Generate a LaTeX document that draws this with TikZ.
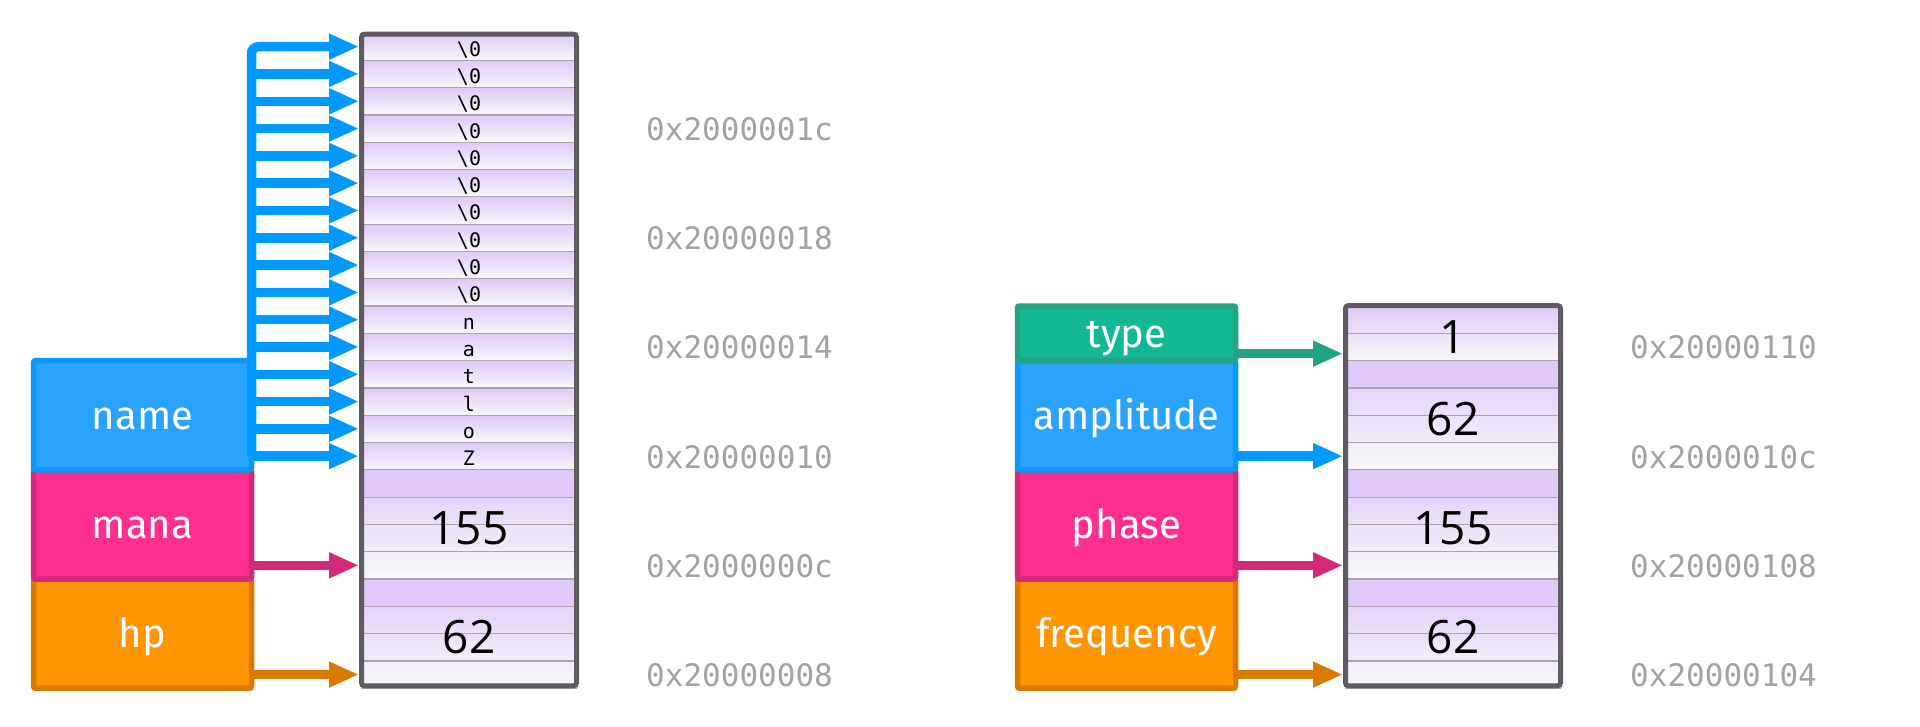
\documentclass[tikz,border=0pt]{standalone}
\usepackage{fontspec}
\usetikzlibrary{arrows.meta}
\newfontfamily\lblfont{Fira Sans}
\newfontfamily\numfont{Open Sans}
\newfontfamily\cellfont{DejaVu Sans Mono}
\definecolor{nameFill}{HTML}{2AA3FF}
\definecolor{nameLine}{HTML}{0A99FA}
\definecolor{blueArrow}{HTML}{0099FF}
\definecolor{manaFill}{HTML}{FF2F8F}
\definecolor{manaLine}{HTML}{D42A7A}
\definecolor{hpFill}{HTML}{FF9500}
\definecolor{hpLine}{HTML}{D97A00}
\definecolor{typeFill}{HTML}{13B894}
\definecolor{typeLine}{HTML}{22A383}
\definecolor{lav}{HTML}{E0C8FA}
\definecolor{cellwhite}{HTML}{F8F8F8}
\definecolor{divider}{HTML}{AAA4AF}
\definecolor{memborder}{HTML}{5F5B63}
\definecolor{addrgray}{HTML}{A2A2A2}
\colorlet{lavB}{lav!75!cellwhite}
\colorlet{lavC}{lav!25!cellwhite}
\pgfdeclareverticalshading{wordshade}{100bp}{color(0bp)=(cellwhite); color(25bp)=(cellwhite); color(37.5bp)=(lavC); color(62.4bp)=(lavB); color(62.5bp)=(lav); color(100bp)=(lav)}
\newcommand\nulchar{\textbackslash0}
\tikzset{
  field/.style={rounded corners=2pt, line width=5.5pt, minimum width=218pt, inner sep=0pt, outer sep=0pt, text=white, font=\lblfont\fontsize{40pt}{48pt}\selectfont, text height=28pt, text depth=0pt},
  ccell/.style={minimum width=215pt, minimum height=27.3pt, inner sep=0pt, outer sep=0pt, top color=lav, bottom color=cellwhite, draw=divider, line width=1.2pt, font=\cellfont\fontsize{20pt}{24pt}\selectfont, text height=19pt, text depth=0pt},
  ecell/.style={minimum width=215pt, minimum height=27.3pt, inner sep=0pt, outer sep=0pt, draw=divider, line width=1.2pt},
  word/.style={minimum width=215pt, inner sep=0pt, outer sep=0pt, shading=wordshade},
  wordtwo/.style={minimum width=215pt, inner sep=0pt, outer sep=0pt, top color=lav, bottom color=cellwhite},
  numtxt/.style={font=\numfont\fontsize{46pt}{50pt}\selectfont, text height=40pt, text depth=0pt, inner sep=0pt},
  addr/.style={anchor=west, inner sep=0pt, font=\cellfont\fontsize{31pt}{36pt}\selectfont, text=addrgray, text height=24pt, text depth=0pt},
  ptr/.style={line width=9.5pt, -{Triangle[length=30pt,width=24pt]}},
  memline/.style={draw=memborder, line width=5pt, rounded corners=3pt},
}
\begin{document}
\begin{tikzpicture}[x=1pt,y=-1pt]
\fill[white] (0,0) rectangle (1920,726);
\useasboundingbox (0,0) rectangle (1920,726);

% ---------- left struct ----------
\node[field, fill=hpFill, draw=hpLine, minimum height=109.2pt] (hp) at (142.5,633.6) {hp};
\node[field, fill=manaFill, draw=manaLine, minimum height=109.2pt] (mana) at (142.5,524.4) {mana};
\node[field, fill=nameFill, draw=nameLine, minimum height=109.2pt] (name) at (142.5,415.2) {name};

% ---------- left memory ----------
\foreach \ch [count=\i from 0] in {\nulchar,\nulchar,\nulchar,\nulchar,\nulchar,\nulchar,\nulchar,\nulchar,\nulchar,\nulchar,n,a,t,l,o,Z}
  \node[ccell] (L\i) at (469,{33+(\i+0.5)*27.3}) {\ch};
\node[word, minimum height=109.2pt] (LW1) at (469,524.4) {};
\node[word, minimum height=109.2pt] (LW2) at (469,633.6) {};
\foreach \i in {16,...,23}
  \node[ecell] (L\i) at (469,{33+(\i+0.5)*27.3}) {};
\node[numtxt] (t155) at (LW1.center) {155};
\node[numtxt] (t62) at (LW2.center) {62};
\draw[memline] ([yshift=-1.2pt]L0.north west) rectangle ([yshift=2.4pt]L23.south east);

% ---------- left pointers ----------
\foreach \i in {1,...,15}
  \draw[ptr,blueArrow] (name.east |- L\i.center) -- ([xshift=-2.5pt]L\i.west);
\draw[ptr,blueArrow,rounded corners=7pt] (name.east |- L15.center) -- (name.east |- L0.center) -- ([xshift=-2.5pt]L0.west);
\draw[ptr,manaLine] (mana.east |- L19.center) -- ([xshift=-2.5pt]L19.west);
\draw[ptr,hpLine] (hp.east |- L23.center) -- ([xshift=-2.5pt]L23.west);

% ---------- left addresses ----------
\node[addr] (a1c) at (646,128.55) {0x2000001c};
\node[addr] (a18) at (646,237.75) {0x20000018};
\node[addr] (a14) at (646,346.95) {0x20000014};
\node[addr] (a10) at (646,456.15) {0x20000010};
\node[addr] (a0c) at (646,565.35) {0x2000000c};
\node[addr] (a08) at (646,674.55) {0x20000008};

% ---------- right struct ----------
\node[field, fill=hpFill, draw=hpLine, minimum height=109.2pt] (frequency) at (1126.5,633.6) {frequency};
\node[field, fill=manaFill, draw=manaLine, minimum height=109.2pt] (phase) at (1126.5,524.4) {phase};
\node[field, fill=nameFill, draw=nameLine, minimum height=109.2pt] (amplitude) at (1126.5,415.2) {amplitude};
\node[field, fill=typeFill, draw=typeLine, minimum height=54.6pt] (type) at (1126.5,333.3) {type};

% ---------- right memory ----------
\node[wordtwo, minimum height=54.6pt] (RW0) at (1453,333.3) {};
\node[word, minimum height=109.2pt] (RW1) at (1453,415.2) {};
\node[word, minimum height=109.2pt] (RW2) at (1453,524.4) {};
\node[word, minimum height=109.2pt] (RW3) at (1453,633.6) {};
\foreach \i in {0,...,13}
  \node[ecell] (R\i) at (1453,{306+(\i+0.5)*27.3}) {};
\node[numtxt] (r1) at (RW0.center) {1};
\node[numtxt] (r62) at (RW1.center) {62};
\node[numtxt] (r155) at (RW2.center) {155};
\node[numtxt] (r62b) at (RW3.center) {62};
\draw[memline] ([yshift=0.5pt]R0.north west) rectangle ([yshift=2.4pt]R13.south east);

% ---------- right pointers ----------
\coordinate (tpt) at ([yshift=-6.7pt]R1.west);
\draw[ptr,typeLine] (type.east |- tpt) -- ([xshift=-2.5pt]tpt);
\draw[ptr,blueArrow] (amplitude.east |- R5.center) -- ([xshift=-2.5pt]R5.west);
\draw[ptr,manaLine] (phase.east |- R9.center) -- ([xshift=-2.5pt]R9.west);
\draw[ptr,hpLine] (frequency.east |- R13.center) -- ([xshift=-2.5pt]R13.west);

% ---------- right addresses ----------
\node[addr] (b110) at (1630,346.95) {0x20000110};
\node[addr] (b10c) at (1630,456.15) {0x2000010c};
\node[addr] (b108) at (1630,565.35) {0x20000108};
\node[addr] (b104) at (1630,674.55) {0x20000104};
\end{tikzpicture}
\end{document}
